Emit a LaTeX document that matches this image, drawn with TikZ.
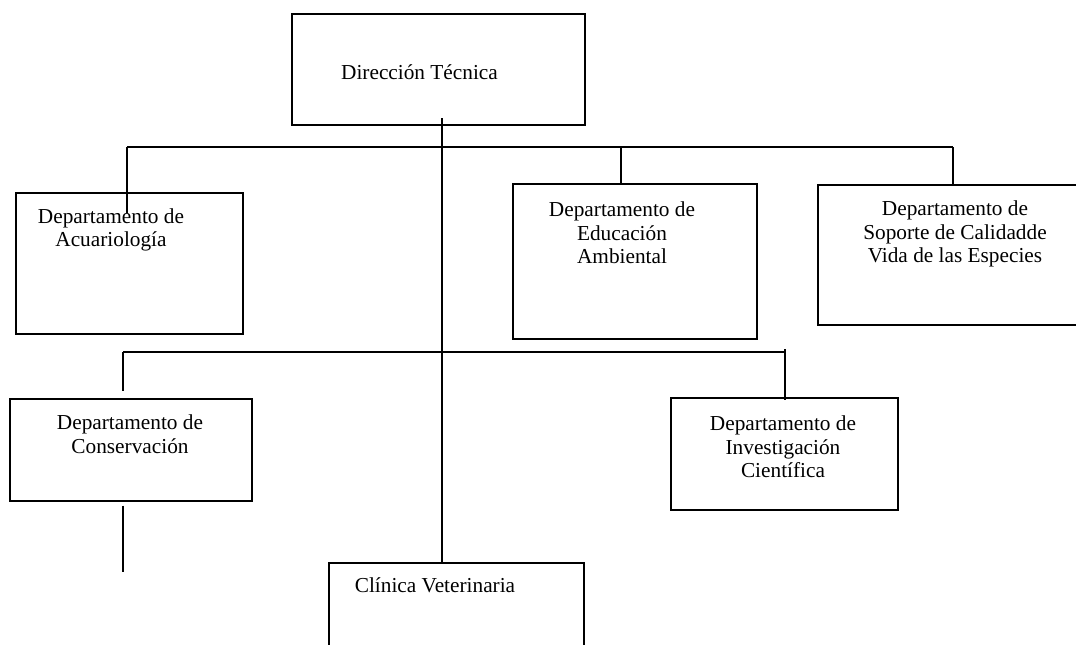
\documentclass[tikz,border=0pt]{standalone}
\usepackage{fontspec}
\setmainfont{Liberation Serif}
\begin{document}
\begin{tikzpicture}[x=1pt,y=-1pt,
  box/.style={draw, line width=1.6pt, inner sep=0pt, anchor=north west},
  lbl/.style={align=center, font=\fontsize{21.3}{23.5}\selectfont, inner sep=0pt},
  link/.style={line width=1.6pt}]
\useasboundingbox (0,0) rectangle (1076,645);
\clip (0,0) rectangle (1076,645);

% boxes
\node[box, minimum width=293pt, minimum height=111pt] (dir) at (291,13) {};
\node[box, minimum width=227pt, minimum height=141pt] (acu) at (15,192) {};
\node[box, minimum width=244pt, minimum height=155pt] (edu) at (512,183) {};
\node[box, minimum width=290pt, minimum height=140pt] (sop) at (817,184) {};
\node[box, minimum width=242pt, minimum height=102pt] (con) at (9,398) {};
\node[box, minimum width=227pt, minimum height=112pt] (inv) at (670,397) {};
\node[box, minimum width=255pt, minimum height=100pt] (cli) at (328,562) {};

% labels
\node[lbl] (tdir) at (419.5,72) {Dirección Técnica};
\node[lbl] (tacu) at (111,230) {Departamento de\\Acuariología};
\node[lbl] (tedu) at (622,233) {Departamento de\\Educación\\Ambiental};
\node[lbl] (tsop) at (955,234) {Departamento de\\Soporte de Calidadde\\Vida de las Especies};
\node[lbl] (tcon) at (130,434) {Departamento de\\Conservación};
\node[lbl] (tinv) at (783,447) {Departamento de\\Investigación\\Científica};
\node[lbl] (tcli) at (435,585) {Clínica Veterinaria};

% upper branch
\coordinate (busA) at (127,147);
\coordinate (busB) at (953,147);
\coordinate (xE) at (621,147);
\coordinate (acuTip) at (127,213);
\draw[link] (busA) -- (busB);
\draw[link] (busA) -- (acuTip);
\draw[link] (xE) -- (edu.north -| xE);
\draw[link] (busB) -- (sop.north -| busB);

% main trunk
\coordinate (m0) at (442,118);
\draw[link] (m0) -- (m0 |- cli.north);

% lower branch
\coordinate (busC) at (123,352);
\coordinate (busD) at (785,352);
\coordinate (conEnd) at (123,572);
\draw[link] (busC) -- (busD);
\draw[link] (busC) -- ([yshift=7pt]con.north -| busC);
\draw[link] ([yshift=3pt]busD) -- ([yshift=-3pt]inv.north -| busD);
\draw[link] ([yshift=-4pt]con.south -| busC) -- (conEnd);
\end{tikzpicture}
\end{document}
